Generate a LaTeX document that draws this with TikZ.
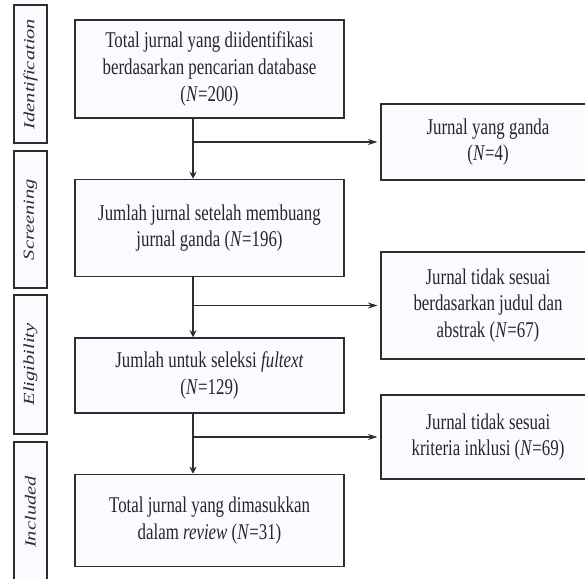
\documentclass[tikz,border=0pt]{standalone}
\usepackage{fontspec}
\usepackage{tikz}
\usetikzlibrary{arrows.meta, positioning}

\setmainfont{Liberation Serif}

\definecolor{boxfill}{RGB}{252,250,255}
\definecolor{boxline}{RGB}{45,45,45}

\begin{document}
\begin{tikzpicture}[
    x=1.333333pt, y=-1pt, xscale=0.75, transform shape,
    node distance=60pt,
    every node/.style={align=center},
    stage/.style={rectangle, minimum width=358.7pt, draw=boxline, line width=1.5pt, fill=boxfill, text=black!85, font=\fontsize{22.5}{26.7}\selectfont},
    excluded/.style={rectangle, minimum width=285.3pt, draw=boxline, line width=1.5pt, fill=boxfill, text=black!85, font=\fontsize{22.5}{26.7}\selectfont},
    phase/.style={rectangle, rotate=90, minimum height=44pt, draw=boxline, line width=1.5pt, fill=boxfill, text=boxline, font=\fontsize{20.5}{24}\selectfont\itshape},
    arrow/.style={line width=1.2pt, draw=boxline, -{Stealth[length=7pt, width=7pt]}},
    sidearrow/.style={line width=1.2pt, draw=boxline, -{Stealth[length=9.5pt, width=6pt]}, shorten >=3pt}
]
\useasboundingbox (0,0) rectangle (585,578);

% Phase labels
\node (ident) [phase, minimum width=138pt] at (30.5,74) {Identification};
\node (screen) [phase, minimum width=137pt] at (30.5,219.5) {Screening};
\node (elig) [phase, minimum width=139pt] at (30.5,364.5) {Eligibility};
\node (incl) [phase, minimum width=140pt] at (30.5,512) {Included};

% Main flow
\node (total) [stage, minimum height=98pt] at (209.5,69) {Total jurnal yang diidentifikasi\\berdasarkan pencarian database\\(\textit{N}=200)};
\node (unique) [stage, minimum height=97pt, below=of total] {Jumlah jurnal setelah membuang\\jurnal ganda (\textit{N}=196)};
\node (fulltext) [stage, minimum height=75pt, below=of unique] {Jumlah untuk seleksi \textit{fultext}\\(\textit{N}=129)};
\node (included) [stage, minimum height=92pt, below=of fulltext] {Total jurnal yang dimasukkan\\dalam \textit{review} (\textit{N}=31)};

% Excluded records
\node (dup) [excluded, minimum height=76pt] at (488,142) {Jurnal yang ganda\\(\textit{N}=4)};
\node (notitle) [excluded, minimum height=107pt] at (488,305.5) {Jurnal tidak sesuai\\berdasarkan judul dan\\abstrak (\textit{N}=67)};
\node (nocrit) [excluded, minimum height=84pt] at (488,437) {Jurnal tidak sesuai\\kriteria inklusi (\textit{N}=69)};

% Arrows
\coordinate (spine) at (193,0);
\draw [arrow] (total.south -| spine) -- (unique.north -| spine);
\draw [arrow] (unique.south -| spine) -- (fulltext.north -| spine);
\draw [arrow] (fulltext.south -| spine) -- (included.north -| spine);

\draw [sidearrow] (spine |- dup.west) -- (dup.west);
\draw [sidearrow] (spine |- notitle.west) -- (notitle.west);
\draw [sidearrow] (spine |- nocrit.west) -- (nocrit.west);

\end{tikzpicture}
\end{document}
